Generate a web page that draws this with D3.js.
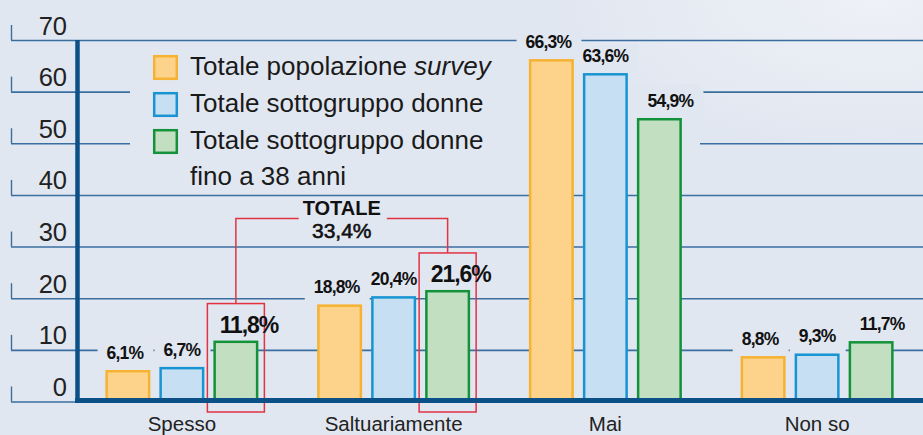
<!DOCTYPE html>
<html>
<head>
<meta charset="utf-8">
<script src="https://cdn.jsdelivr.net/npm/d3@7"></script>
<style>
  html, body { margin: 0; padding: 0; background: #e1e7f1; }
  svg { display: block; font-family: "Liberation Sans", Arial, Helvetica, sans-serif; }
</style>
</head>
<body>
<svg id="chart" width="923" height="435"></svg>
<script>
// ---------- data ----------
const categories = ["Spesso", "Saltuariamente", "Mai", "Non so"];
const seriesKeys = ["popolazione", "donne", "donne38"];
const popolazione = [6.1, 18.8, 66.3, 8.8];
const donne = [6.7, 20.4, 63.6, 9.3];
const donne38 = [11.8, 21.6, 54.9, 11.7];
const yTicks = [0, 10, 20, 30, 40, 50, 60, 70];
const legendLines = [
  [["Totale popolazione ", false], ["survey", true]],
  [["Totale sottogruppo donne", false]],
  [["Totale sottogruppo donne", false]],
  [["fino a 38 anni", false]]
];
const highlightCategories = ["Spesso", "Saltuariamente"];
const totalLabel = ["TOTALE", "33,4%"];

// ---------- styles ----------
const fills = { popolazione: "#fdd38c", donne: "#c7dff2", donne38: "#c2dfc2" };
const strokes = { popolazione: "#f6b232", donne: "#1994d2", donne38: "#13923a" };
const labelDx = { popolazione: -3, donne: 0, donne38: 11 };
const bg = "#e1e7f1";
const gridColor = "#3a6e9f";
const axisColor = "#0c5088";
const red = "#e23341";

const valuesBySeries = { popolazione, donne, donne38 };
const fmt = v => d3.format(".1f")(v).replace(".", ",") + "%";

const svg = d3.select("#chart");
const W = 923, H = 435;

const defs = svg.append("defs");
const rg = defs.append("radialGradient").attr("id", "bgGrad")
  .attr("cx", "95%").attr("cy", "0%").attr("r", "35%");
rg.append("stop").attr("offset", "0%").attr("stop-color", "#eef1f6");
rg.append("stop").attr("offset", "100%").attr("stop-color", bg);
svg.append("rect").attr("width", W).attr("height", H).attr("fill", bg);
svg.append("rect").attr("width", W).attr("height", H).attr("fill", "url(#bgGrad)");

// ---------- scales ----------
const y = d3.scaleLinear().domain([0, 70]).range([401.5, 40]);
const x = d3.scaleBand().domain(categories).range([76, 923]).paddingInner(0).paddingOuter(0);
const xs = d3.scaleBand().domain(seriesKeys).range([-76.5, 76.5]).paddingInner(1 / 6).paddingOuter(0);

// ---------- gridlines (axis) ----------
const gridAxis = d3.axisRight(y).tickValues(yTicks).tickSize(W - 11).tickFormat("");
const gridG = svg.append("g").attr("transform", "translate(11,0)").call(gridAxis);
gridG.select(".domain").remove();
gridG.selectAll(".tick line").attr("stroke", gridColor).attr("stroke-width", 1.6);
// small hooks at left
svg.append("g").selectAll("line").data(yTicks).join("line")
  .attr("x1", 11.5).attr("x2", 11.5)
  .attr("y1", d => y(d) - 15).attr("y2", d => y(d))
  .attr("stroke", gridColor).attr("stroke-width", 1.4);

// tick labels
const labAxis = d3.axisLeft(y).tickValues(yTicks).tickSize(0).tickPadding(0).tickFormat(d3.format("d"));
const labG = svg.append("g").attr("transform", "translate(67,0)").call(labAxis);
labG.select(".domain").remove();
labG.selectAll(".tick text")
  .attr("font-family", "'Liberation Sans', Arial, sans-serif")
  .attr("font-size", 25.5).attr("fill", "#222")
  .attr("dy", null).attr("y", -6).attr("dominant-baseline", "auto");

// ---------- knockouts layer (above gridlines, below marks) ----------
const knock = svg.append("g");
// legend area knockout
knock.append("rect").attr("x", 130).attr("y", 84).attr("width", 570).attr("height", 66).attr("fill", bg);

// ---------- legend ----------
const lg = svg.append("g");
const legendSquaresY = [55, 92, 129];
seriesKeys.forEach((k, i) => {
  lg.append("rect").attr("x", 154.2).attr("y", legendSquaresY[i] + 1.2)
    .attr("width", 22.6).attr("height", 22.6)
    .attr("fill", fills[k]).attr("stroke", strokes[k]).attr("stroke-width", 2.5);
});
const legendBaselines = [75, 112, 149, 185];
legendLines.forEach((parts, i) => {
  const t = lg.append("text").attr("x", 190).attr("y", legendBaselines[i])
    .attr("font-size", 26).attr("fill", "#1a1a1a");
  parts.forEach(([s, it]) => {
    t.append("tspan").text(s).attr("font-style", it ? "italic" : "normal");
  });
});

// ---------- bars ----------
const barsG = svg.append("g");
const hl = svg.append("g");
const labelsG = svg.append("g");
const sw = 2.5;
const flat = [];
categories.forEach((c, ci) => {
  seriesKeys.forEach(k => {
    flat.push({ cat: c, key: k, value: valuesBySeries[k][ci] });
  });
});
const cx = d => x(d.cat) + x.bandwidth() / 2 + xs(d.key);
barsG.selectAll("rect").data(flat).join("rect")
  .attr("x", d => cx(d) + sw / 2)
  .attr("y", d => y(d.value) + sw / 2)
  .attr("width", xs.bandwidth() - sw)
  .attr("height", d => y(0) - y(d.value) - sw / 2)
  .attr("fill", d => fills[d.key])
  .attr("stroke", d => strokes[d.key])
  .attr("stroke-width", sw);

// value labels
const isBig = d => d.key === "donne38" && highlightCategories.includes(d.cat);
labelsG.selectAll("text").data(flat).join("text")
  .attr("x", d => cx(d) + xs.bandwidth() / 2 + (isBig(d) ? 13 : labelDx[d.key]))
  .attr("y", d => y(d.value) - (isBig(d) ? 8 : 11))
  .attr("text-anchor", "middle")
  .attr("font-weight", "bold")
  .attr("font-size", d => isBig(d) ? 23 : 17.5)
  .attr("letter-spacing", d => isBig(d) ? -1.1 : -0.8)
  .attr("fill", "#111")
  .text(d => fmt(d.value));

// knockouts behind value labels
labelsG.selectAll("text").each(function (d) {
  const b = this.getBBox();
  knock.append("rect")
    .attr("x", b.x - 9).attr("y", b.y - 2)
    .attr("width", b.width + 18).attr("height", y(d.value) - b.y + 2)
    .attr("fill", bg);
});

// ---------- highlight boxes & total ----------
const boxes = highlightCategories.map(c => {
  const d = flat.find(f => f.cat === c && f.key === "donne38");
  const bx = cx(d) - 6, bw = xs.bandwidth() + 12;
  const top = y(d.value) - 37;
  return { x: bx, w: bw, top, bottom: y(0) + 10.5, c: bx + bw / 2 };
});
boxes.forEach(b => {
  hl.append("rect").attr("x", b.x).attr("y", b.top).attr("width", b.w).attr("height", b.bottom - b.top)
    .attr("fill", "none").attr("stroke", red).attr("stroke-width", 1.5);
});
const tx = (boxes[0].c + boxes[1].c) / 2;
const tTot = hl.append("text").attr("x", tx).attr("y", 215).attr("text-anchor", "middle")
  .attr("font-weight", "bold").attr("font-size", 20).attr("fill", "#111").text(totalLabel[0]);
hl.append("text").attr("x", tx).attr("y", 238).attr("text-anchor", "middle")
  .attr("font-size", 21).attr("fill", "#111").attr("stroke", "#111").attr("stroke-width", 0.6)
  .text(totalLabel[1]);
const tb = tTot.node().getBBox();
const lineY = 218.5;
hl.append("path")
  .attr("d", `M${boxes[0].c},${boxes[0].top}V${lineY}H${tb.x - 4}`)
  .attr("fill", "none").attr("stroke", red).attr("stroke-width", 1.5);
hl.append("path")
  .attr("d", `M${tb.x + tb.width + 6},${lineY}H${boxes[1].c}V${boxes[1].top}`)
  .attr("fill", "none").attr("stroke", red).attr("stroke-width", 1.5);

// ---------- axes ----------
svg.append("line").attr("x1", 77.5).attr("x2", 77.5).attr("y1", 40).attr("y2", 403)
  .attr("stroke", axisColor).attr("stroke-width", 4.5);
const xAxis = d3.axisBottom(x).tickSize(0).tickPadding(0);
const xG = svg.append("g").attr("transform", `translate(0,${y(0) - 1})`).call(xAxis);
xG.select(".domain").attr("stroke", axisColor).attr("stroke-width", 5)
  .attr("d", `M75,0H${W}`);
xG.selectAll(".tick text")
  .attr("font-family", "'Liberation Sans', Arial, sans-serif")
  .attr("font-size", 20.5).attr("fill", "#222")
  .attr("dy", null).attr("y", 30.5);
</script>
</body>
</html>
